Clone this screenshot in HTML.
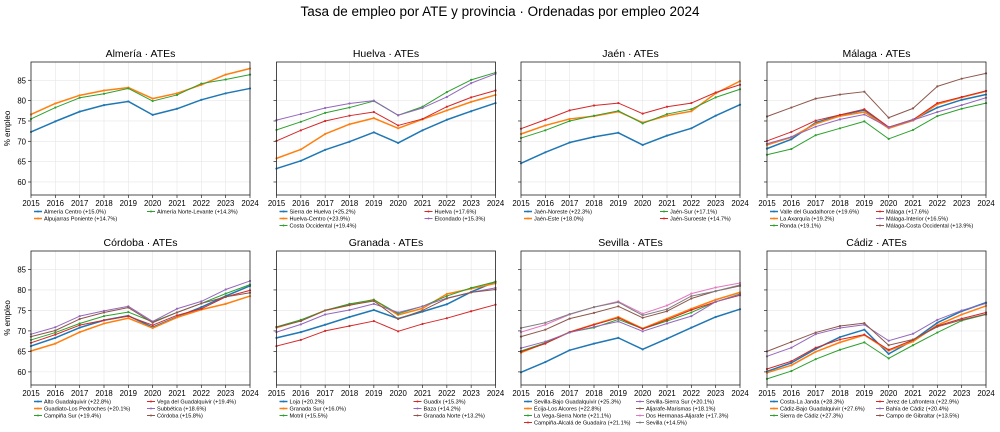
<!DOCTYPE html>
<html><head><meta charset="utf-8">
<style>
body{margin:0;background:#fff;}
svg{display:block;font-family:"Liberation Sans","DejaVu Sans",sans-serif;}
</style></head>
<body>
<svg id="chart" width="1000" height="432" viewBox="0 0 1000 432">
<text x="500" y="16" text-anchor="middle" font-size="13.5" fill="#000">Tasa de empleo por ATE y provincia · Ordenadas por empleo 2024</text>
</svg>
<script>
const years = [2015,2016,2017,2018,2019,2020,2021,2022,2023,2024];
const yTicks = [60,65,70,75,80,85];
const colors = ["#1f77b4","#ff7f0e","#2ca02c","#d62728","#9467bd","#8c564b","#e377c2","#7f7f7f"];

const almeriaNames = ["Almería Centro (+15.0%)","Alpujarras Poniente (+14.7%)","Almería Norte-Levante (+14.3%)"];
const almeriaValues = [
 [72.3,74.9,77.3,78.9,79.8,76.5,78.0,80.2,81.8,83.0],
 [76.6,79.3,81.3,82.5,83.2,80.5,81.8,83.9,86.4,87.9],
 [75.5,78.3,80.7,81.7,83.0,79.9,81.4,84.2,85.2,86.4]];
const huelvaNames = ["Sierra de Huelva (+25.2%)","Huelva-Centro (+23.9%)","Costa Occidental (+19.4%)","Huelva (+17.6%)","Elcondado (+15.3%)"];
const huelvaValues = [
 [63.3,65.2,67.9,69.9,72.2,69.6,72.7,75.3,77.4,79.4],
 [65.8,68.0,71.8,74.2,75.7,73.2,75.4,77.6,79.7,81.4],
 [72.8,74.8,77.0,78.3,79.9,76.4,78.5,82.1,85.1,86.9],
 [70.1,72.7,75.0,76.3,77.2,73.9,75.5,78.5,80.8,82.5],
 [75.2,76.7,78.2,79.3,80.0,76.4,78.2,80.9,84.3,86.6]];
const jaenNames = ["Jaén-Noreste (+22.3%)","Jaén-Este (+18.0%)","Jaén-Sur (+17.1%)","Jaén-Suroeste (+14.7%)"];
const jaenValues = [
 [64.6,67.3,69.7,71.1,72.1,69.1,71.4,73.2,76.3,79.0],
 [71.8,73.9,75.5,76.2,77.3,74.6,76.3,77.4,81.8,84.8],
 [70.8,72.7,75.0,76.3,77.5,74.4,76.7,77.9,80.8,82.8],
 [73.1,75.3,77.6,78.8,79.4,76.8,78.5,79.4,82.0,83.9]];
const malagaNames = ["Valle del Guadalhorce (+19.6%)","La Axarquía (+19.2%)","Ronda (+19.1%)","Málaga (+17.6%)","Málaga-Interior (+16.5%)","Málaga-Costa Occidental (+13.9%)"];
const malagaValues = [
 [68.2,70.5,74.6,76.4,77.7,73.4,75.3,78.3,80.2,81.5],
 [69.1,71.0,74.3,76.2,77.2,73.2,75.1,79.1,80.8,82.3],
 [66.7,68.1,71.5,73.2,74.9,70.6,72.8,76.2,78.0,79.4],
 [70.1,72.3,75.1,76.5,77.9,73.5,75.3,79.4,80.9,82.4],
 [69.4,71.1,73.6,75.4,76.6,73.4,75.2,77.2,78.9,80.7],
 [76.1,78.3,80.5,81.5,82.2,75.8,78.1,83.5,85.4,86.7]];
const cordobaNames = ["Alto Guadalquivir (+22.8%)","Guadiato-Los Pedroches (+20.1%)","Campiña Sur (+19.4%)","Vega del Guadalquivir (+19.4%)","Subbética (+18.6%)","Córdoba (+15.8%)"];
const cordobaValues = [
 [66.3,68.3,70.8,72.6,73.7,70.9,73.4,75.8,78.5,81.0],
 [65.1,66.9,69.7,71.8,73.1,70.7,73.3,75.2,76.6,78.5],
 [67.8,69.6,71.8,73.6,74.6,72.2,74.5,76.7,79.1,81.3],
 [67.1,69.1,71.4,72.6,73.6,71.4,73.8,75.4,78.3,79.9],
 [69.2,70.9,73.6,74.9,76.0,72.3,75.4,77.2,80.1,82.2],
 [68.6,70.1,72.9,74.5,75.7,72.0,74.5,76.7,78.3,79.3]];
const granadaNames = ["Loja (+20.2%)","Granada Sur (+16.0%)","Motril (+15.5%)","Guadix (+15.3%)","Baza (+14.2%)","Granada Norte (+13.2%)"];
const granadaValues = [
 [68.3,69.7,71.5,73.4,75.1,73.0,74.7,76.5,79.5,82.0],
 [70.8,72.5,75.0,76.3,77.6,73.9,75.5,79.0,80.3,81.6],
 [71.0,72.7,75.0,76.6,77.6,74.2,76.0,78.5,80.5,82.0],
 [66.3,67.8,70.0,71.2,72.4,69.9,71.7,73.1,74.8,76.4],
 [69.7,71.6,74.0,75.1,76.6,74.5,76.0,78.0,79.4,80.5],
 [70.9,72.4,75.0,76.3,77.3,72.9,75.0,77.9,79.4,80.1]];
const sevillaNames = ["Sevilla-Bajo Guadalquivir (+25.3%)","Écija-Los Alcores (+22.8%)","La Vega-Sierra Norte (+21.1%)","Campiña-Alcalá de Guadaíra (+21.1%)","Sevilla-Sierra Sur (+20.1%)","Aljarafe-Marismas (+18.1%)","Dos Hermanas-Aljarafe (+17.3%)","Sevilla (+14.5%)"];
const sevillaValues = [
 [59.9,62.4,65.3,66.9,68.3,65.5,68.1,70.8,73.4,75.3],
 [64.7,67.1,69.7,71.6,73.4,70.6,73.0,75.4,77.6,79.4],
 [65.1,67.1,69.7,70.8,72.8,70.5,72.4,74.5,77.1,79.0],
 [64.9,66.9,69.7,71.5,73.2,70.5,72.7,75.1,77.1,78.7],
 [65.8,67.4,69.6,71.0,72.3,69.9,71.8,73.6,77.1,78.9],
 [68.6,70.3,73.0,74.4,76.0,73.2,74.8,77.9,79.7,81.0],
 [69.7,71.5,74.0,75.8,77.2,74.2,76.2,79.1,80.6,81.7],
 [70.7,72.0,74.1,75.8,77.0,73.8,75.3,78.5,79.7,81.2]];
const cadizNames = ["Costa-La Janda (+28.3%)","Cádiz-Bajo Guadalquivir (+27.6%)","Sierra de Cádiz (+27.3%)","Jerez de Lafrontera (+22.9%)","Bahía de Cádiz (+20.4%)","Campo de Gibraltar (+13.5%)"];
const cadizValues = [
 [60.1,62.2,65.6,68.5,70.3,64.4,67.7,72.0,74.8,76.9],
 [59.8,61.6,64.9,67.2,69.0,65.2,67.4,71.4,74.0,76.1],
 [58.3,60.2,63.1,65.4,67.2,63.3,66.5,69.6,72.5,74.0],
 [60.7,62.6,65.9,67.9,69.1,65.4,67.8,71.2,73.0,74.5],
 [63.8,65.9,69.2,70.7,71.5,67.6,69.3,72.7,75.0,76.7],
 [65.0,67.3,69.6,71.2,71.9,66.5,67.9,71.0,72.7,74.1]];

const panels = [
 {title:"Almería · ATEs", names:almeriaNames, values:almeriaValues, col:0,row:0, col2:113},
 {title:"Huelva · ATEs", names:huelvaNames, values:huelvaValues, col:1,row:0, col2:145},
 {title:"Jaén · ATEs", names:jaenNames, values:jaenValues, col:2,row:0, col2:136},
 {title:"Málaga · ATEs", names:malagaNames, values:malagaValues, col:3,row:0, col2:106},
 {title:"Córdoba · ATEs", names:cordobaNames, values:cordobaValues, col:0,row:1, col2:113},
 {title:"Granada · ATEs", names:granadaNames, values:granadaValues, col:1,row:1, col2:134},
 {title:"Sevilla · ATEs", names:sevillaNames, values:sevillaValues, col:2,row:1, col2:112},
 {title:"Cádiz · ATEs", names:cadizNames, values:cadizValues, col:3,row:1, col2:106}
];

const NS = "http://www.w3.org/2000/svg";
const svg = document.getElementById("chart");
const X0 = [31,276.5,521,767], W = 219;
const Y0 = [62,251], H = [133,134];
const YMIN = 56.8, YMAX = 89.5;
function mk(tag, attrs, parent){ const e=document.createElementNS(NS,tag); for(const k in attrs) e.setAttribute(k,attrs[k]); (parent||svg).appendChild(e); return e; }
function slug(s){ return s.toLowerCase().normalize("NFD").replace(/[\u0300-\u036f]/g,"").replace(/[^a-z0-9]+/g,"-").replace(/^-|-$/g,""); }

panels.forEach(p=>{
  const x0=X0[p.col], y0=Y0[p.row], h=H[p.row];
  const xs = i => x0 + W*(years[i]-years[0])/(years[years.length-1]-years[0]);
  const ys = v => y0 + h*(YMAX-v)/(YMAX-YMIN);
  const g = mk("g",{});
  
  
  // grid
  years.forEach((yr,i)=>{ mk("line",{x1:xs(i),x2:xs(i),y1:y0,y2:y0+h,stroke:"#e6e6e6","stroke-width":0.6},g); });
  yTicks.forEach(t=>{ mk("line",{x1:x0,x2:x0+W,y1:ys(t),y2:ys(t),stroke:"#e6e6e6","stroke-width":0.6},g); });
  // title
  const tt = mk("text",{x:x0+W/2,y:y0-5,"text-anchor":"middle","font-size":"10.5",fill:"#000"},g);
  tt.textContent = p.title;
  
  
  // series
  p.values.forEach((vals,si)=>{
    const c = colors[si];
    const lw = si<2 ? 1.5 : 1;
    const pts = vals.map((v,i)=>xs(i).toFixed(2)+","+ys(v).toFixed(2)).join(" ");
    const pl = mk("polyline",{points:pts,fill:"none",stroke:c,"stroke-width":lw,"stroke-linejoin":"round"},g);
    
    
    vals.forEach((v,i)=>{
      const m = mk("circle",{cx:xs(i),cy:ys(v),r:1.1,fill:c},g);
      
      
    });
  });
  // frame
  mk("rect",{x:x0,y:y0,width:W,height:h,fill:"none",stroke:"#222","stroke-width":0.8},g);
  // x ticks
  years.forEach((yr,i)=>{
    mk("line",{x1:xs(i),x2:xs(i),y1:y0+h,y2:y0+h+3,stroke:"#222","stroke-width":0.7},g);
    const t = mk("text",{x:xs(i),y:y0+h+11,"text-anchor":"middle","font-size":"7.8",fill:"#000"},g);
    t.textContent = yr;
    
    
  });
  // y ticks
  yTicks.forEach(tk=>{
    mk("line",{x1:x0-3,x2:x0,y1:ys(tk),y2:ys(tk),stroke:"#222","stroke-width":0.7},g);
    if(p.col===0){
      const t = mk("text",{x:x0-5,y:ys(tk)+3,"text-anchor":"end","font-size":"7.8",fill:"#000"},g);
      t.textContent = tk;
      
      
    }
  });
  if(p.col===0){
    const cy = y0+h/2;
    const yl = mk("text",{x:10,y:cy,"text-anchor":"middle","font-size":"8",fill:"#000",transform:"rotate(-90 10 "+cy+")"},g);
    yl.textContent = "% empleo";
    
    
  }
  // legend
  const n = p.names.length, per = Math.ceil(n/2);
  const ly0 = y0+h+16.5;
  p.names.forEach((nm,si)=>{
    const c = Math.floor(si/per), r = si%per;
    const tx = x0+13 + c*p.col2, ty = ly0 + r*7;
    const le = mk("g",{},g);
    
    
    mk("line",{x1:tx-10,x2:tx-2,y1:ty,y2:ty,stroke:colors[si],"stroke-width":si<2?1.5:1},le);
    mk("circle",{cx:tx-6,cy:ty,r:1,fill:colors[si]},le);
    const t = mk("text",{x:tx,y:ty+2,"font-size":"5.6",fill:"#000"},le);
    t.textContent = nm;
  });
});
</script>
</body></html>
